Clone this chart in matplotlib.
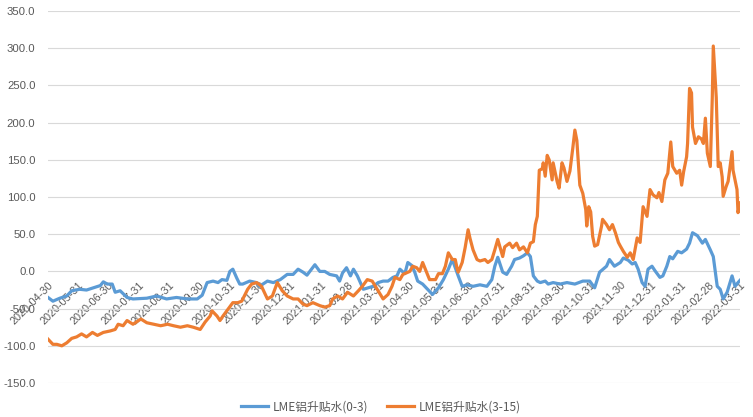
import numpy as np
import pandas as pd
import matplotlib
matplotlib.use("Agg")
import matplotlib.pyplot as plt

# 起始日期, 以下 day 为距起始日的天数
start = "2020-04-30"
end = "2022-03-31"

blue_day = [0, 5, 12, 19, 24, 32, 39, 46, 53, 56, 60, 65, 68, 73, 80, 86, 100, 110, 120, 130,
            141, 151, 156, 161, 167, 172, 176, 181, 184, 187, 191, 194, 197, 204, 211, 214, 222, 228, 235, 242,
            248, 253, 258, 262, 270, 275, 280, 285, 292, 295, 298, 302, 306, 309, 313, 316, 319, 324, 329, 334,
            339, 344, 349, 353, 356, 361, 364, 368, 371, 374, 379, 384, 389, 395, 400, 405, 409, 412, 415, 419,
            424, 430, 437, 444, 449, 452, 455, 460, 464, 469, 472, 477, 481, 485, 488, 491, 495, 498, 503, 506,
            511, 518, 525, 533, 541, 548, 553, 558, 565, 568, 573, 579, 582, 587, 591, 594, 597, 601, 604, 607,
            611, 614, 619, 622, 626, 629, 632, 637, 641, 646, 649, 652, 657, 662, 665, 670, 673, 677, 680, 683,
            687, 690, 692, 695, 698, 700]
blue_val = [-35, -40, -36, -33, -26, -24, -25, -22, -19, -14, -17, -17, -28, -26, -35, -37, -36, -33, -37, -35,
            -37, -37, -32, -15, -13, -15, -11, -12, 0, 3, -9, -17, -17, -13, -15, -20, -13, -15, -11, -4,
            -4, 3, -1, -5, 9, 0, 0, -4, -6, -13, -2, 5, -6, 3, -6, -15, -24, -22, -20, -15,
            -13, -13, -8, -6, 3, -3, 12, 8, -1, -13, -17, -24, -31, -22, -11, 3, 16, 5, -6, -20,
            -18, -20, -18, -20, -11, 7, 19, -1, -4, 7, 16, 18, 21, 25, 20, -6, -13, -15, -13, -17,
            -15, -17, -15, -17, -13, -13, -22, -1, 7, 16, 7, 12, 18, 15, 10, 12, 3, -15, -20, 3,
            7, 1, -8, -6, 7, 20, 17, 27, 25, 30, 38, 52, 48, 38, 43, 29, 20, -20, -24, -37,
            -28, -15, -6, -20, -15, -12]

orange_day = [0, 5, 9, 14, 19, 24, 29, 34, 39, 45, 50, 56, 63, 68, 71, 76, 80, 86, 94, 100,
              107, 114, 121, 127, 134, 141, 147, 154, 159, 164, 166, 171, 174, 177, 182, 187, 192, 196, 202, 206,
              211, 216, 222, 227, 232, 237, 242, 248, 253, 258, 262, 268, 275, 280, 285, 288, 293, 298, 303, 309,
              314, 318, 323, 328, 333, 339, 344, 348, 351, 356, 359, 366, 369, 373, 376, 379, 383, 386, 392, 395,
              399, 402, 405, 409, 412, 414, 415, 419, 422, 425, 427, 430, 434, 437, 442, 445, 449, 452, 455, 460,
              462, 467, 470, 474, 477, 481, 485, 488, 491, 493, 495, 497, 500, 501, 503, 505, 507, 510, 511, 515,
              517, 520, 522, 525, 528, 531, 533, 535, 538, 541, 544, 545, 547, 549, 551, 553, 556, 560, 561, 565,
              568, 571, 574, 577, 579, 582, 586, 589, 592, 596, 599, 602, 606, 609, 612, 616, 618, 621, 624, 627,
              630, 632, 636, 639, 641, 643, 646, 647, 649, 651, 652, 655, 658, 661, 663, 665, 667, 670, 672, 673,
              676, 678, 680, 682, 683, 686, 688, 692, 693, 695, 697, 698, 700]
orange_val = [-91, -98, -98, -100, -96, -90, -88, -84, -88, -82, -86, -82, -80, -78, -71, -73, -66, -71, -64, -69,
              -71, -73, -71, -73, -75, -73, -75, -78, -68, -60, -53, -60, -66, -60, -51, -42, -42, -40, -24, -17,
              -15, -20, -37, -33, -15, -26, -33, -37, -37, -44, -46, -42, -46, -48, -46, -37, -33, -37, -28, -33,
              -26, -20, -11, -13, -24, -37, -31, -20, -8, -11, -4, 0, 7, 5, 0, 12, -1, -11, -11, -3,
              -3, 7, 25, 16, 16, 3, -1, 12, 32, 56, 44, 29, 16, 14, 16, 12, 16, 29, 43, 20,
              33, 38, 32, 38, 29, 33, 25, 38, 40, 63, 74, 136, 138, 146, 128, 156, 150, 123, 146, 121,
              112, 146, 139, 121, 135, 167, 190, 176, 116, 105, 83, 61, 87, 80, 47, 34, 36, 61, 70, 63,
              56, 63, 52, 39, 34, 27, 19, 25, 16, 45, 39, 87, 74, 110, 103, 99, 106, 94, 123, 132,
              174, 141, 132, 136, 116, 134, 154, 172, 246, 240, 194, 172, 181, 178, 172, 206, 159, 141, 234, 303,
              234, 141, 146, 127, 101, 114, 121, 161, 136, 123, 110, 79, 92]

labels = ["LME铝升贴水(0-3)", "LME铝升贴水(3-15)"]
colors = ["#5B9BD5", "#ED7D31"]

t0 = pd.Timestamp(start)
blue_dates = t0 + pd.to_timedelta(blue_day, unit="D")
orange_dates = t0 + pd.to_timedelta(orange_day, unit="D")

plt.rcParams["font.family"] = ["Liberation Sans", "Noto Sans CJK SC", "DejaVu Sans"]

fig = plt.figure(figsize=(7.53, 4.17), dpi=100)
ax = fig.add_axes([0.0637, 0.0815, 0.919, 0.892])

# 横轴放在 0 处 (先设置, 否则会重置刻度)
for s in ax.spines.values():
    s.set_visible(False)
ax.spines["bottom"].set_position(("data", 0))

ax.plot(blue_dates, blue_val, color=colors[0], lw=2.3, label=labels[0])
ax.plot(orange_dates, orange_val, color=colors[1], lw=2.3, label=labels[1])

ax.set_ylim(-150, 350)
ax.set_yticks(np.arange(-150, 351, 50))
ax.yaxis.set_major_formatter(matplotlib.ticker.FuncFormatter(lambda v, p: f"{v:.1f}"))
ax.set_xlim(pd.Timestamp(start), pd.Timestamp(end))

ticks = pd.date_range(start, end, freq="ME")
ax.set_xticks(ticks)
ax.set_xticklabels([d.strftime("%Y-%m-%d") for d in ticks])
ax.tick_params(axis="x", length=0, pad=6, labelsize=7.8, colors="#595959")
ax.tick_params(axis="y", length=0, pad=9, labelsize=8.2, colors="#595959")
for lab in ax.get_xticklabels():
    lab.set_rotation(45)
    lab.set_ha("right")
    lab.set_va("top")
    lab.set_rotation_mode("anchor")

ax.grid(axis="y", color="#D9D9D9", lw=0.8)
ax.set_axisbelow(True)

fig.legend(loc="center", bbox_to_anchor=(0.506, 0.024), ncol=2, frameon=False,
           handlelength=2.3, columnspacing=1.6, handletextpad=0.4,
           prop={"family": ["Noto Sans CJK SC", "DejaVu Sans"], "size": 8.5},
           labelcolor="#595959")

fig.savefig("out.png", dpi=100)
